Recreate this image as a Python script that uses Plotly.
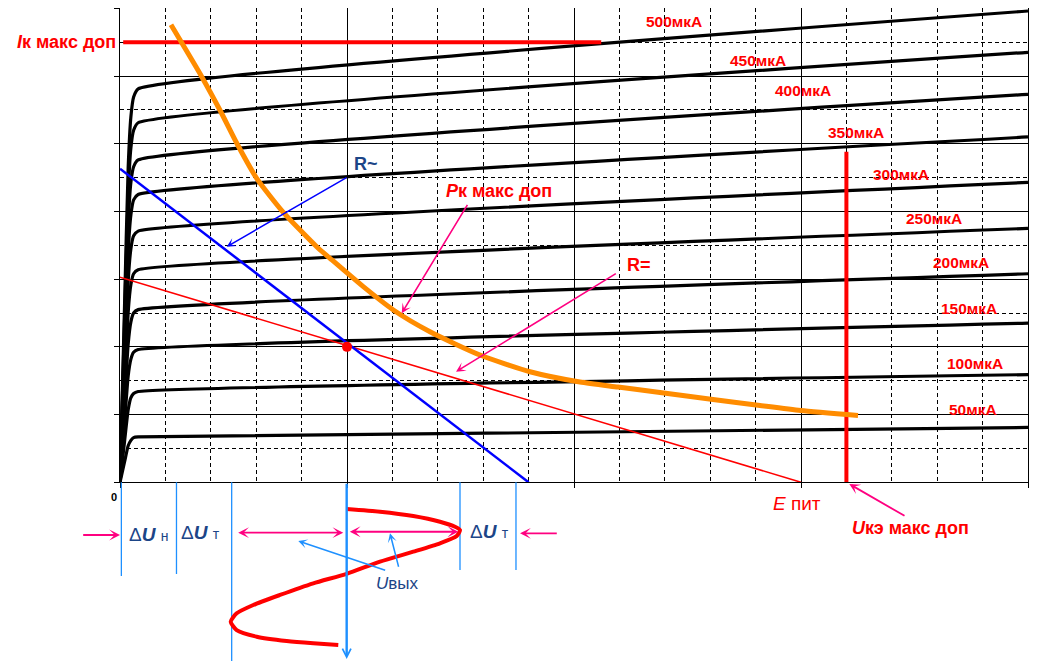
import plotly.graph_objects as go

# ---------------- data (axis units: x = U_ke grid divisions, y = I_k grid divisions) -------------
CURVE_X = [0, 0.1, 0.18, 0.24, 0.3, 0.4, 20]
IB_500 = [0, 2.61, 4.65, 5.40, 5.69, 5.81, 6.96]
IB_450 = [0, 2.39, 4.25, 4.94, 5.20, 5.31, 6.35]
IB_400 = [0, 2.14, 3.81, 4.43, 4.66, 4.76, 5.73]
IB_350 = [0, 1.91, 3.40, 3.95, 4.17, 4.25, 5.10]
IB_300 = [0, 1.67, 2.97, 3.45, 3.64, 3.71, 4.43]
IB_250 = [0, 1.41, 2.51, 2.92, 3.08, 3.14, 3.75]
IB_200 = [0, 1.15, 2.04, 2.37, 2.50, 2.55, 3.08]
IB_150 = [0, 0.88, 1.57, 1.82, 1.92, 1.96, 2.35]
IB_100 = [0, 0.60, 1.07, 1.25, 1.31, 1.34, 1.59]
IB_050 = [0, 0.30, 0.54, 0.62, 0.66, 0.67, 0.81]
CURVES = [IB_500, IB_450, IB_400, IB_350, IB_300, IB_250, IB_200, IB_150, IB_100, IB_050]
CURVE_LABELS = ["500мкА", "450мкА", "400мкА", "350мкА", "300мкА",
                "250мкА", "200мкА", "150мкА", "100мкА", "50мкА"]
LABEL_X = [12.20, 14.05, 15.04, 16.21, 17.20, 17.93, 18.52, 18.70, 18.83, 18.78]
LABEL_Y = [6.80, 6.23, 5.78, 5.17, 4.55, 3.90, 3.25, 2.57, 1.75, 1.08]

# maximum permissible collector power (hyperbola)
PK_X = [1.123, 1.800, 2.203, 2.584, 3.011, 3.597, 4.333, 4.626, 5.359, 6.020, 6.828,
        7.930, 9.031, 10.132, 10.969, 11.894, 13.062, 14.097, 14.993, 16.256]
PK_Y = [6.756, 5.990, 5.494, 4.992, 4.489, 3.987, 3.479, 3.308, 2.889, 2.545, 2.224,
        1.880, 1.633, 1.481, 1.407, 1.326, 1.223, 1.134, 1.060, 0.986]

# load lines
R_AC_X = [0, 9.0]
R_AC_Y = [4.63, 0]
R_DC_X = [0, 15.0]
R_DC_Y = [3.03, 0]
Q_POINT = (5.0, 2.0)

IK_MAX_X = [0.07, 10.6]
IK_MAX_Y = [6.5, 6.5]
UKE_MAX_X = [16.0, 16.0]
UKE_MAX_Y = [0, 4.88]

# output voltage waveform (below the axis)
SINE_X = [4.993, 5.727, 6.460, 7.048, 7.379, 7.489, 7.416, 7.048, 6.460, 5.727, 4.993,
          4.258, 3.524, 2.936, 2.570, 2.438, 2.570, 3.011, 3.672, 4.258, 4.808]
SINE_Y = [-0.394, -0.434, -0.498, -0.582, -0.656, -0.705, -0.794, -0.901, -1.025, -1.172,
          -1.351, -1.492, -1.664, -1.812, -1.935, -2.059, -2.182, -2.280, -2.344, -2.378, -2.403]

# marker lines below the axis: x position, lower end
VLINE_X = [0.03, 1.244, 2.46, 7.489, 8.722]
VLINE_YEND = [-1.384, -1.354, -2.70, -1.295, -1.295]

# ---------------- geometry of the page ----------------
BODY = 8                       # default page margin of the html body
W, H = 1050 - BODY, 661 - BODY
PX0, PX1 = 120.0 - BODY, 1028.0 - BODY      # plot left / right (figure px)
PY0, PY1 = 482.3 - BODY, 8.3 - BODY         # plot bottom / top (figure px)
SX = (PX1 - PX0) / 20.0
SY = (PY0 - PY1) / 7.0

FONT = "Liberation Sans, Arial, sans-serif"
RED = "#FF0000"
PINK = "#FF0080"
LBLUE = "#1E90FF"
NAVY = "#1C4587"

fig = go.Figure()

# collector characteristics
for ys in CURVES:
    fig.add_trace(go.Scatter(x=CURVE_X, y=ys, mode="lines",
                             line=dict(color="black", width=3.2, shape="spline", smoothing=0.5),
                             xaxis="x", yaxis="y", hoverinfo="skip"))

fig.add_trace(go.Scatter(x=IK_MAX_X, y=IK_MAX_Y, mode="lines",
                         line=dict(color=RED, width=4), xaxis="x", yaxis="y"))
fig.add_trace(go.Scatter(x=UKE_MAX_X, y=UKE_MAX_Y, mode="lines",
                         line=dict(color=RED, width=4), xaxis="x", yaxis="y"))
fig.add_trace(go.Scatter(x=R_DC_X, y=R_DC_Y, mode="lines",
                         line=dict(color=RED, width=1.5), xaxis="x", yaxis="y"))
fig.add_trace(go.Scatter(x=R_AC_X, y=R_AC_Y, mode="lines",
                         line=dict(color="#0000FF", width=2.5), xaxis="x", yaxis="y"))
fig.add_trace(go.Scatter(x=PK_X, y=PK_Y, mode="lines",
                         line=dict(color="#FF8C00", width=5, shape="spline", smoothing=0.6),
                         xaxis="x", yaxis="y"))
fig.add_trace(go.Scatter(x=[Q_POINT[0]], y=[Q_POINT[1]], mode="markers",
                         marker=dict(color=RED, size=10), xaxis="x", yaxis="y"))

# below-axis part (overlay axes spanning the whole page)
for vx, ve in zip(VLINE_X, VLINE_YEND):
    fig.add_trace(go.Scatter(x=[vx, vx], y=[0, ve], mode="lines",
                             line=dict(color=LBLUE, width=1.3), xaxis="x2", yaxis="y2"))
fig.add_trace(go.Scatter(x=SINE_X, y=SINE_Y, mode="lines",
                         line=dict(color=RED, width=4, shape="spline", smoothing=0.6),
                         xaxis="x2", yaxis="y2"))

ann = []


def text(x, y, s, size, color, bold=False, xanchor="center"):
    ann.append(dict(x=x, y=y, xref="x2", yref="y2", text=(f"<b>{s}</b>" if bold else s),
                    showarrow=False, xanchor=xanchor, yanchor="middle",
                    font=dict(family=FONT, size=size, color=color)))


def arrow(x0, y0, x1, y1, color, width=1.8, head=3, size=1.0, both=False):
    d = dict(x=x1, y=y1, ax=x0, ay=y0, xref="x2", yref="y2", axref="x2", ayref="y2",
             text="", showarrow=True, arrowhead=head, arrowsize=size, arrowwidth=width,
             arrowcolor=color, standoff=0, startstandoff=0)
    if both:
        d.update(arrowside="end+start", startarrowhead=head, startarrowsize=size)
    ann.append(d)


for lbl, lx, ly in zip(CURVE_LABELS, LABEL_X, LABEL_Y):
    text(lx, ly, lbl, 15.5, RED, bold=True)

text(-0.044, 6.502, "<i>I</i>к макс доп", 18, RED, bold=True, xanchor="right")
text(8.35, 4.295, "<i>P</i>к макс доп", 18, RED, bold=True)
text(5.42, 4.70, "R~", 18, NAVY, bold=True)
text(11.43, 3.21, "R=", 18, RED, bold=True)
text(14.92, -0.307, "<i>E</i> пит", 19, RED)
text(17.42, -0.675, "<i>U</i>кэ макс доп", 18, RED, bold=True)
text(-0.143, -0.217, "0", 11, "black", bold=True)
text(0.617, -0.764, "Δ<b><i>U</i></b> <span style='font-size:14px'>н</span>", 19, NAVY)
text(1.784, -0.741, "Δ<b><i>U</i></b> <span style='font-size:14px'>т</span>", 19, NAVY)
text(8.128, -0.730, "Δ<b><i>U</i></b> <span style='font-size:14px'>т</span>", 19, NAVY)
text(6.112, -1.492, "<i>U</i>вых", 17, NAVY)

arrow(7.672, 4.120, 6.205, 2.496, PINK, 1.6)
arrow(10.954, 3.095, 7.401, 1.633, PINK, 1.6)
arrow(17.313, -0.508, 16.064, -0.025, PINK, 1.8)
arrow(5.022, 4.513, 2.350, 3.479, "#0000FF", 1.5)
arrow(-0.844, -0.778, 0.0, -0.778, PINK, 1.8)
arrow(9.654, -0.753, 8.811, -0.753, PINK, 1.8)
arrow(2.570, -0.744, 4.918, -0.744, PINK, 1.8, both=True)
arrow(5.029, -0.730, 7.452, -0.730, PINK, 1.8, both=True)
arrow(5.874, -1.305, 3.927, -0.867, LBLUE, 1.5)
arrow(6.145, -1.270, 5.947, -0.753, LBLUE, 1.5)
arrow(4.993, 0.0, 4.993, -2.609, LBLUE, 2.4, head=5, size=0.7)

grid_common = dict(showgrid=True, gridcolor="black", gridwidth=1, ticks="outside", ticklen=5,
                   tickcolor="black", tickwidth=1, showticklabels=False, showline=True,
                   linecolor="black", linewidth=1, mirror=True, zeroline=False, fixedrange=True)

fig.update_layout(
    width=W, height=H, margin=dict(l=0, r=0, t=0, b=0, pad=0),
    paper_bgcolor="white", plot_bgcolor="rgba(0,0,0,0)", showlegend=False,
    xaxis=dict(domain=[PX0 / W, PX1 / W], range=[0, 20], tick0=0, dtick=5, anchor="y",
               minor=dict(tick0=0, dtick=1, showgrid=True, gridcolor="black", gridwidth=1,
                          griddash="4px,3px", ticks=""),
               **grid_common),
    yaxis=dict(domain=[(H - PY0) / H, (H - PY1) / H], range=[0, 7], tick0=0, dtick=1, anchor="x",
               minor=dict(tick0=0, dtick=0.5, showgrid=True, gridcolor="black", gridwidth=1,
                          griddash="4px,3px", ticks=""),
               **grid_common),
    xaxis2=dict(domain=[0, 1], range=[-PX0 / SX, (W - PX0) / SX], visible=False, anchor="y2",
                fixedrange=True),
    yaxis2=dict(domain=[0, 1], range=[-(H - PY0) / SY, PY0 / SY], visible=False, anchor="x2",
                fixedrange=True),
    annotations=ann,
)

fig.write_html("out.html")
